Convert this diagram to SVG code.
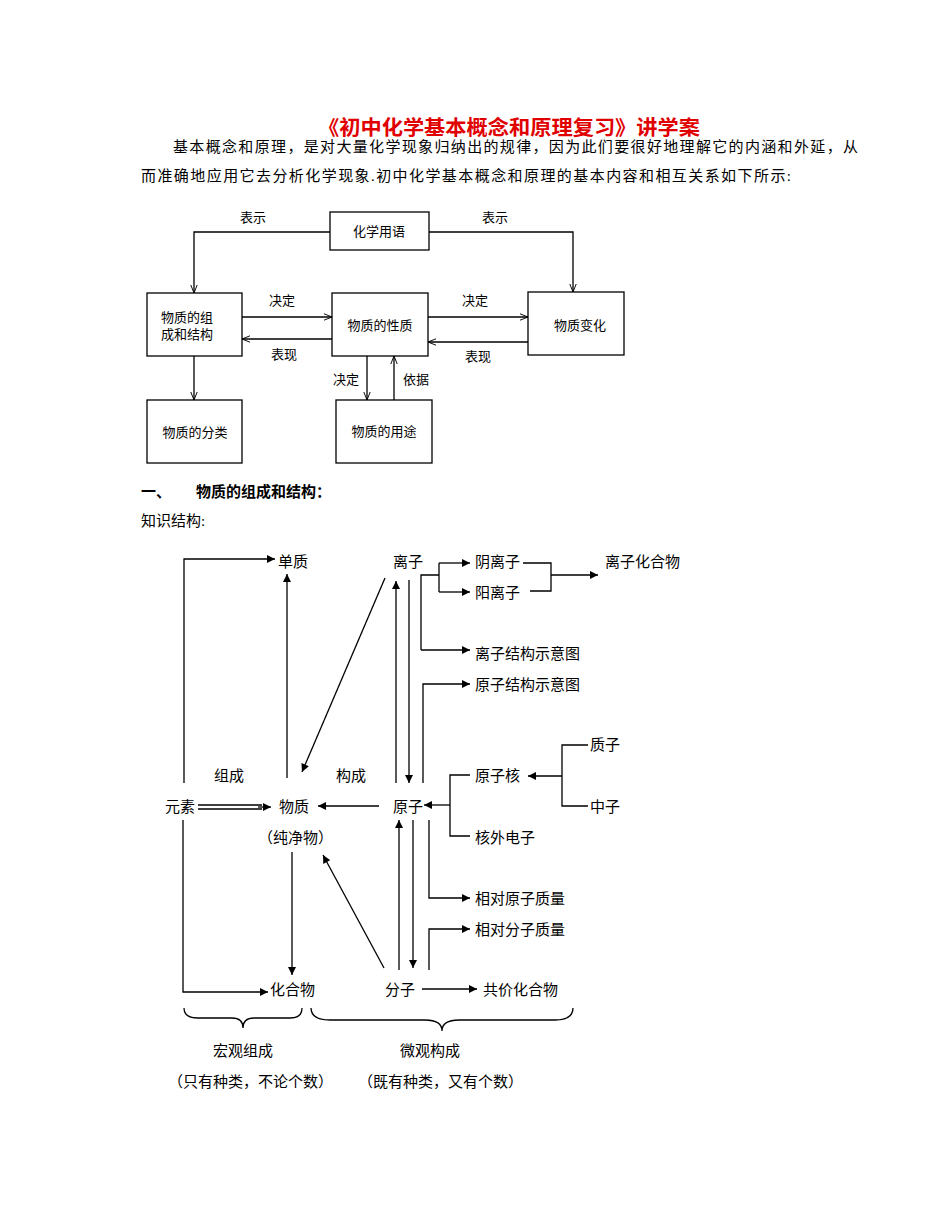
<svg xmlns="http://www.w3.org/2000/svg" width="950" height="1230" viewBox="0 0 950 1230">
<style>
.t{font-family:"Liberation Serif","Noto Sans CJK SC",serif;font-size:15px;fill:#000}
.s{font-family:"Noto Sans CJK SC","Liberation Sans",sans-serif;font-size:13px;fill:#000}
.b{fill:#fff;stroke:#000;stroke-width:1.3}
.l{fill:none;stroke:#000;stroke-width:1.3}
</style>
<defs>
<marker id="a" viewBox="0 0 10 10" refX="10" refY="5" markerWidth="10" markerHeight="8" markerUnits="userSpaceOnUse" orient="auto"><path d="M0,0L10,5L0,10z" fill="#000"/></marker>
<marker id="o" viewBox="0 0 10 10" refX="10" refY="5" markerWidth="8" markerHeight="8" markerUnits="userSpaceOnUse" orient="auto"><path d="M0,1L10,5L0,9" fill="none" stroke="#000" stroke-width="1.2"/></marker>
</defs>
<rect width="950" height="1230" fill="#fff"/>
<text x="318" y="135" textLength="382" lengthAdjust="spacingAndGlyphs" style="font-family:'Liberation Serif','Noto Sans CJK SC',serif;font-size:20px;font-weight:bold;fill:#e00000">《初中化学基本概念和原理复习》讲学案</text>
<text class="t" x="173" y="152" textLength="685" lengthAdjust="spacing">基本概念和原理，是对大量化学现象归纳出的规律，因为此们要很好地理解它的内涵和外延，从</text>
<text class="t" x="141" y="181" textLength="650" lengthAdjust="spacing">而准确地应用它去分析化学现象.初中化学基本概念和原理的基本内容和相互关系如下所示:</text>
<text class="t" x="141" y="497" style="font-weight:bold">一、</text>
<text class="t" x="196" y="497" style="font-weight:bold">物质的组成和结构：</text>
<text class="t" x="141" y="526">知识结构:</text>

<g id="top-connectors">
<path class="l" d="M330,232H194V293" marker-end="url(#o)"/>
<path class="l" d="M429,232H573V292" marker-end="url(#o)"/>
<path class="l" d="M242,317H332" marker-end="url(#o)"/>
<path class="l" d="M332,339H242" marker-end="url(#o)"/>
<path class="l" d="M428,317H528" marker-end="url(#o)"/>
<path class="l" d="M528,342H428" marker-end="url(#o)"/>
<path class="l" d="M194,356V400" marker-end="url(#o)"/>
<path class="l" d="M367,356V400" marker-end="url(#o)"/>
<path class="l" d="M394,400V356" marker-end="url(#o)"/>
</g>
<g id="n-yuyan"><rect class="b" x="330" y="212" width="99" height="38"/><text class="s" x="379" y="236" text-anchor="middle">化学用语</text></g>
<g id="n-zucheng"><rect class="b" x="147" y="293" width="95" height="63"/><text class="s" x="187" y="322" text-anchor="middle">物质的组</text><text class="s" x="187" y="339" text-anchor="middle">成和结构</text></g>
<g id="n-xingzhi"><rect class="b" x="332" y="293" width="96" height="63"/><text class="s" x="380" y="330" text-anchor="middle">物质的性质</text></g>
<g id="n-bianhua"><rect class="b" x="528" y="292" width="96" height="63"/><text class="s" x="580" y="330" text-anchor="middle">物质变化</text></g>
<g id="n-fenlei"><rect class="b" x="147" y="400" width="95" height="63"/><text class="s" x="195" y="437" text-anchor="middle">物质的分类</text></g>
<g id="n-yongtu"><rect class="b" x="336" y="400" width="96" height="63"/><text class="s" x="384" y="436" text-anchor="middle">物质的用途</text></g>
<g id="top-labels">
<text class="s" x="253" y="222" text-anchor="middle">表示</text>
<text class="s" x="495" y="222" text-anchor="middle">表示</text>
<text class="s" x="282" y="305" text-anchor="middle">决定</text>
<text class="s" x="475" y="305" text-anchor="middle">决定</text>
<text class="s" x="284" y="359" text-anchor="middle">表现</text>
<text class="s" x="478" y="361" text-anchor="middle">表现</text>
<text class="s" x="346" y="384" text-anchor="middle">决定</text>
<text class="s" x="416" y="384" text-anchor="middle">依据</text>
</g>

<g id="connectors">
<path class="l" d="M184,783V559H275" marker-end="url(#a)"/>
<path class="l" d="M287,778V574" marker-end="url(#a)"/>
<path class="l" d="M385,578L302,772" marker-end="url(#a)"/>
<path class="l" d="M198,805H262M198,809H262"/>
<path class="l" d="M258,807H271" marker-end="url(#a)"/>
<path class="l" d="M379,806H318" marker-end="url(#a)"/>
<path class="l" d="M396,783V581" marker-end="url(#a)"/>
<path class="l" d="M409,580V783" marker-end="url(#a)"/>
<path class="l" d="M421,650V575H439"/>
<path class="l" d="M439,563V592"/>
<path class="l" d="M439,563H470" marker-end="url(#a)"/>
<path class="l" d="M439,592H470" marker-end="url(#a)"/>
<path class="l" d="M421,650H470" marker-end="url(#a)"/>
<path class="l" d="M523,563H551V591H530"/>
<path class="l" d="M551,575H598" marker-end="url(#a)"/>
<path class="l" d="M423,783V684H470" marker-end="url(#a)"/>
<path class="l" d="M588,745H562V806H588"/>
<path class="l" d="M562,776H528" marker-end="url(#a)"/>
<path class="l" d="M470,775H450V836H470"/>
<path class="l" d="M450,805H424" marker-end="url(#a)"/>
<path class="l" d="M399,970V820" marker-end="url(#a)"/>
<path class="l" d="M413,820V968" marker-end="url(#a)"/>
<path class="l" d="M429,820V898H470" marker-end="url(#a)"/>
<path class="l" d="M429,970V929H470" marker-end="url(#a)"/>
<path class="l" d="M384,968L323,855" marker-end="url(#a)"/>
<path class="l" d="M292,852V975" marker-end="url(#a)"/>
<path class="l" d="M183,820V992H268" marker-end="url(#a)"/>
<path class="l" d="M422,989H477" marker-end="url(#a)"/>
<path class="l" d="M184,1008Q184,1018 198,1018H232Q243,1018 243,1028Q243,1018 254,1018H290Q302,1018 302,1008"/>
<path class="l" d="M311,1008Q311,1020 330,1020H425Q442,1020 442,1031Q442,1020 459,1020H555Q573,1020 573,1008"/>
</g>
<g id="nodes">
<text class="t" x="278" y="567">单质</text>
<text class="t" x="393" y="567">离子</text>
<text class="t" x="475" y="567">阴离子</text>
<text class="t" x="475" y="598">阳离子</text>
<text class="t" x="605" y="567">离子化合物</text>
<text class="t" x="475" y="659">离子结构示意图</text>
<text class="t" x="475" y="690">原子结构示意图</text>
<text class="t" x="590" y="750">质子</text>
<text class="t" x="475" y="781">原子核</text>
<text class="t" x="590" y="812">中子</text>
<text class="t" x="214" y="781">组成</text>
<text class="t" x="336" y="781">构成</text>
<text class="t" x="165" y="812">元素</text>
<text class="t" x="279" y="812">物质</text>
<text class="t" x="393" y="812">原子</text>
<text class="t" x="475" y="843">核外电子</text>
<text class="t" x="258" y="843">（纯净物）</text>
<text class="t" x="475" y="904">相对原子质量</text>
<text class="t" x="475" y="935">相对分子质量</text>
<text class="t" x="270" y="995">化合物</text>
<text class="t" x="385" y="995">分子</text>
<text class="t" x="483" y="995">共价化合物</text>
<text class="t" x="213" y="1056">宏观组成</text>
<text class="t" x="400" y="1056">微观构成</text>
<text class="t" x="168" y="1087">（只有种类，不论个数）</text>
<text class="t" x="358" y="1087">（既有种类，又有个数）</text>
</g>
</svg>
